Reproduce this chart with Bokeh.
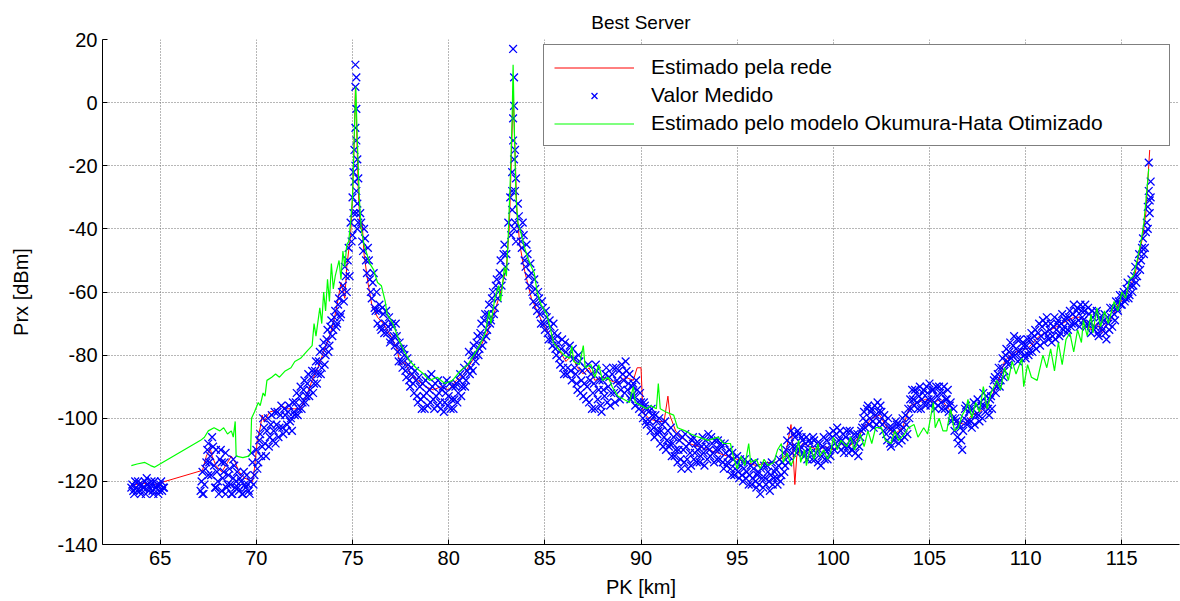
from bokeh.plotting import figure
from bokeh.models import FixedTicker, Legend, LegendItem, Range1d
from bokeh.embed import file_html
from bokeh.resources import INLINE

FONT = "Liberation Sans"

title_text = "Best Server"
x_label = "PK [km]"
y_label = "Prx [dBm]"
x_ticks = [65, 70, 75, 80, 85, 90, 95, 100, 105, 110, 115]
y_ticks = [-140, -120, -100, -80, -60, -40, -20, 0, 20]
series_names = ["Estimado pela rede", "Valor Medido", "Estimado pelo modelo Okumura-Hata Otimizado"]

# Estimado pela rede (red)
red_km = [63.5, 64.0, 64.7, 67.2, 67.4, 67.6, 67.7, 67.9, 68.2, 68.5, 68.7, 68.9, 69.1, 69.4, 69.8, 69.9,
          70.05, 70.2, 70.3, 70.4, 70.7, 71.0, 71.3, 71.6, 72.0, 72.3, 72.6, 72.9, 73.2, 73.5, 73.8, 74.0,
          74.2, 74.4, 74.6, 74.7, 74.8, 74.9, 75.0, 75.1, 75.15, 75.2, 75.3, 75.4, 75.5, 75.6, 75.8, 76.0,
          76.3, 76.6, 77.0, 77.3, 77.5, 77.7, 78.0, 78.4, 78.8, 79.2, 79.6, 80.0, 80.4, 80.8, 81.2, 81.6,
          82.0, 82.4, 82.7, 83.0, 83.15, 83.25, 83.35, 83.45, 83.55, 83.7, 83.9, 84.1, 84.3, 84.6, 84.9,
          85.2, 85.5, 85.8, 86.1, 86.4, 86.7, 87.0, 87.3, 87.6, 88.0, 88.4, 88.8, 89.2, 89.6, 89.8, 90.0,
          90.1, 90.4, 90.8, 91.2, 91.4, 91.5, 91.8, 92.1, 92.5, 93.0, 93.5, 94.0, 94.5, 95.0, 95.5, 96.0,
          96.5, 97.0, 97.5, 97.8, 97.9, 98.0, 98.1, 98.4, 98.8, 99.2, 99.6, 100.0, 100.4, 100.8, 101.2,
          101.6, 102.0, 102.4, 102.8, 103.2, 103.6, 104.0, 104.4, 104.8, 105.2, 105.6, 106.0, 106.4, 106.8,
          107.2, 107.6, 108.0, 108.4, 108.7, 108.9, 109.2, 109.5, 109.8, 110.1, 110.4, 110.7, 111.0, 111.3,
          111.6, 111.9, 112.2, 112.5, 112.8, 113.1, 113.4, 113.7, 114.0, 114.2, 114.5, 114.8, 115.1, 115.4,
          115.7, 115.9, 116.1, 116.25, 116.35, 116.45]
red_dbm = [-121.5, -120.5, -121, -116.5, -112, -109.5, -112, -115, -117, -114, -112, -114, -117, -119, -120, -116,
           -107, -103, -99, -101, -98, -97.5, -96, -97, -97, -97, -93, -88, -84, -79, -74, -70,
           -64, -57, -62, -52, -47, -42, -30, -10, 5, -5, -28, -40, -38, -48, -57, -64,
           -68, -70, -74, -78, -83, -82, -86, -88, -90, -91, -90, -91, -88, -86, -82, -78,
           -73, -66, -60, -52, -40, -20, 3, -15, -35, -45, -52, -57, -62, -66, -70,
           -73, -76, -79, -82, -80, -84, -86, -84, -88, -87, -88, -89, -87, -88, -84, -84,
           -98, -100, -101, -101, -93, -99, -104, -106, -108, -109, -110, -111, -112, -113, -114, -115,
           -114, -114, -112, -102, -110, -121, -112, -108, -109, -110, -109, -110, -108, -109, -107,
           -103, -100, -99, -103, -105, -103, -96, -95, -94, -95, -94, -97, -101, -102,
           -99, -98, -96, -91, -86, -82, -80, -79, -78, -78, -76, -74, -73, -72,
           -71, -70, -69, -68, -68, -69, -72, -70, -73, -70, -68, -64, -62, -59,
           -54, -48, -42, -35, -25, -15]

# Valor Medido (blue crosses) - first pass of samples
blue_km = [63.5, 63.6, 63.7, 63.8, 63.9, 64.0, 64.1, 64.2, 64.3, 64.4, 64.5, 64.6, 64.7, 64.8, 64.9, 65.0, 65.1, 65.2,
           67.1, 67.2, 67.3, 67.4, 67.5, 67.6, 67.7, 67.8, 67.9, 68.0, 68.1, 68.2, 68.3, 68.4, 68.5, 68.6, 68.7, 68.8,
           68.9, 69.0, 69.1, 69.2, 69.3, 69.4, 69.5, 69.6, 69.7, 69.8, 69.9,
           67.2, 67.5, 67.9, 68.2, 68.4, 68.8,
           70.0, 70.1, 70.2, 70.3, 70.4, 70.5, 70.6, 70.7, 70.8, 70.9,
           71.0, 71.1, 71.2, 71.3, 71.4, 71.5, 71.6, 71.7, 71.8, 71.9,
           72.0, 72.1, 72.2, 72.3, 72.4, 72.5, 72.6, 72.7, 72.8, 72.9,
           73.0, 73.1, 73.2, 73.3, 73.4, 73.5, 73.6, 73.7, 73.8, 73.9,
           74.0, 74.1, 74.2, 74.3, 74.4, 74.5, 74.6, 74.7, 74.8, 74.9,
           75.0, 75.0, 75.05, 75.1, 75.1, 75.15, 75.15, 75.2, 75.2, 75.15, 75.2, 75.15, 75.2, 75.25, 75.25, 75.3, 75.3,
           75.05, 75.2, 75.25,
           75.4, 75.5, 75.6, 75.7, 75.8, 75.9, 76.0, 76.1, 76.2, 76.3,
           76.4, 76.5, 76.6, 76.7, 76.8, 76.9, 77.0, 77.1, 77.2, 77.3,
           77.4, 77.5, 77.6, 77.7, 77.8, 77.9, 78.0, 78.1, 78.2, 78.3,
           78.4, 78.5, 78.6, 78.7, 78.8, 78.9, 79.0, 79.1, 79.2, 79.3,
           79.4, 79.5, 79.6, 79.7, 79.8, 79.9, 80.0, 80.1, 80.2, 80.3,
           80.4, 80.5, 80.6, 80.7, 80.8, 80.9,
           81.0, 81.1, 81.2, 81.3, 81.4, 81.5, 81.6, 81.7, 81.8, 81.9,
           82.0, 82.1, 82.2, 82.3, 82.4, 82.5, 82.6, 82.7, 82.8, 82.9,
           83.0, 83.1, 83.2,
           83.25, 83.3, 83.3, 83.35, 83.35, 83.4, 83.4, 83.35, 83.4, 83.45, 83.45, 83.5, 83.5,
           83.3, 83.4, 83.45,
           83.6, 83.7, 83.8, 83.9, 84.0, 84.1, 84.2, 84.3, 84.4, 84.5,
           84.6, 84.7, 84.8, 84.9, 85.0, 85.1, 85.2, 85.3, 85.4, 85.5,
           85.6, 85.7, 85.8, 85.9, 86.0, 86.1, 86.2, 86.3, 86.4, 86.5,
           86.6, 86.7, 86.8, 86.9, 87.0, 87.1, 87.2, 87.3, 87.4, 87.5,
           87.6, 87.7, 87.8, 87.9, 88.0, 88.1, 88.2, 88.3, 88.4, 88.5,
           88.6, 88.7, 88.8, 88.9, 89.0, 89.1, 89.2, 89.3, 89.4, 89.5,
           89.6, 89.7, 89.8, 89.9,
           90.0, 90.1, 90.2, 90.3, 90.4, 90.5, 90.6, 90.7, 90.8, 90.9,
           91.0, 91.1, 91.2, 91.3, 91.4, 91.5, 91.6, 91.7, 91.8, 91.9,
           92.0, 92.1, 92.2, 92.3, 92.4, 92.5, 92.6, 92.7, 92.8, 92.9,
           93.0, 93.1, 93.2, 93.3, 93.4, 93.5, 93.6, 93.7, 93.8, 93.9,
           94.0, 94.1, 94.2, 94.3, 94.4, 94.5, 94.6, 94.7, 94.8, 94.9,
           95.0, 95.1, 95.2, 95.3, 95.4, 95.5, 95.6, 95.7, 95.8, 95.9,
           96.0, 96.1, 96.2, 96.3, 96.4, 96.5, 96.6, 96.7, 96.8, 96.9,
           97.0, 97.1, 97.2, 97.3, 97.4, 97.5, 97.6, 97.7, 97.8, 97.9,
           98.0, 98.1, 98.2, 98.3, 98.4, 98.5, 98.6, 98.7, 98.8, 98.9,
           99.0, 99.1, 99.2, 99.3, 99.4, 99.5, 99.6, 99.7, 99.8, 99.9,
           100.0, 100.1, 100.2, 100.3, 100.4, 100.5, 100.6, 100.7, 100.8, 100.9,
           101.0, 101.1, 101.2, 101.3, 101.4, 101.5, 101.6, 101.7, 101.8, 101.9,
           102.0, 102.1, 102.2, 102.3, 102.4, 102.5, 102.6, 102.7, 102.8, 102.9,
           103.0, 103.1, 103.2, 103.3, 103.4, 103.5, 103.6, 103.7, 103.8, 103.9,
           104.0, 104.1, 104.2, 104.3, 104.4, 104.5, 104.6, 104.7, 104.8, 104.9,
           105.0, 105.1, 105.2, 105.3, 105.4, 105.5, 105.6, 105.7, 105.8, 105.9,
           106.0, 106.1, 106.2, 106.3, 106.4, 106.5, 106.6, 106.7, 106.8, 106.9,
           107.0, 107.1, 107.2, 107.3, 107.4, 107.5, 107.6, 107.7, 107.8, 107.9,
           108.0, 108.1, 108.2, 108.3, 108.4, 108.5, 108.6, 108.7, 108.8, 108.9,
           109.0, 109.1, 109.2, 109.3, 109.4, 109.5, 109.6, 109.7, 109.8, 109.9,
           110.0, 110.1, 110.2, 110.3, 110.4, 110.5, 110.6, 110.7, 110.8, 110.9,
           111.0, 111.1, 111.2, 111.3, 111.4, 111.5, 111.6, 111.7, 111.8, 111.9,
           112.0, 112.1, 112.2, 112.3, 112.4, 112.5, 112.6, 112.7, 112.8, 112.9,
           113.0, 113.1, 113.2, 113.3, 113.4, 113.5, 113.6, 113.7, 113.8, 113.9,
           114.0, 114.1, 114.2, 114.3, 114.4, 114.5, 114.6, 114.7, 114.8, 114.9,
           115.0, 115.1, 115.2, 115.3, 115.4, 115.5, 115.6, 115.7, 115.8, 115.9,
           116.0, 116.1, 116.2, 116.3, 116.35, 116.4, 116.45, 116.5, 116.5, 116.4]
blue_dbm = [-122, -123, -120, -123, -121, -124, -122, -120, -119, -123, -121, -123, -120, -122, -124, -121, -123, -122,
            -123, -117, -121, -114, -108, -112, -106, -115, -110, -120, -113, -123, -117, -111, -121, -116, -124, -119,
            -122, -117, -123, -120, -124, -121, -118, -123, -120, -114, -118,
            -124, -118, -122, -114, -124, -113,
            -110, -114, -105, -109, -103, -112, -100, -106, -99, -104,
            -108, -98, -103, -96, -105, -99, -102, -96, -100, -95,
            -99, -92, -97, -90, -95, -88, -93, -86, -91, -85,
            -89, -82, -86, -79, -84, -76, -80, -72, -77, -69,
            -72, -66, -70, -62, -67, -58, -52, -60, -46, -38,
            -42, -30, -35, -25, -15, -20, -8, -2, -12, 5, 8, 12, -28, -18, -32, -24, -38,
            -22, -35, -40,
            -35, -44, -40, -50, -46, -56, -62, -54, -66, -70,
            -64, -72, -67, -70, -73, -68, -75, -71, -77, -74,
            -82, -78, -84, -80, -87, -83, -90, -86, -92, -88,
            -95, -90, -97, -93, -88, -96, -91, -86, -94, -89,
            -96, -92, -97, -90, -95, -88, -93, -97, -90, -94,
            -89, -92, -86, -90, -84, -88,
            -83, -86, -80, -77, -82, -74, -78, -70, -75, -67,
            -72, -64, -69, -60, -65, -56, -60, -50, -55, -45,
            -48, -38, -30,
            -42, -22, -34, -12, -5, -1, 8, 17, -18, -28, -38, -24, -44,
            -28, -40, -15,
            -32, -40, -46, -42, -52, -48, -58, -54, -63, -59,
            -66, -62, -70, -65, -72, -68, -75, -71, -77, -73,
            -80, -76, -83, -75, -86, -79, -84, -77, -88, -81,
            -86, -91, -82, -88, -93, -84, -90, -95, -86, -92,
            -97, -85, -91, -96, -88, -93, -84, -90, -96, -86,
            -92, -84, -89, -94, -83, -88, -82, -91, -86, -93,
            -89, -96, -91, -97,
            -95, -100, -96, -102, -98, -104, -99, -106, -101, -104,
            -108, -102, -106, -110, -104, -108, -112, -106, -110, -114,
            -107, -116, -110, -105, -113, -108, -115, -106, -111, -114,
            -108, -112, -106, -115, -109, -105, -112, -108, -114, -110,
            -107, -113, -109, -116, -111, -114, -110, -118, -113, -116,
            -112, -119, -115, -120, -113, -117, -121, -115, -119, -114,
            -122, -117, -124, -119, -115, -121, -117, -123, -114, -119,
            -116, -121, -113, -118, -111, -115, -107, -112, -104, -109,
            -106, -111, -105, -109, -107, -112, -106, -110, -108, -113,
            -107, -111, -114, -108, -112, -106, -110, -113, -105, -109,
            -104, -108, -103, -107, -110, -105, -109, -104, -111, -107,
            -110, -105, -108, -112, -106, -103, -98, -101, -96, -100,
            -97, -103, -99, -95, -101, -98, -104, -101, -107, -103,
            -109, -104, -106, -102, -108, -104, -100, -106, -102, -97,
            -94, -91, -96, -92, -97, -90, -94, -91, -96, -92,
            -89, -94, -91, -97, -93, -90, -95, -92, -97, -94,
            -98, -95, -100, -104, -101, -108, -103, -110, -100, -96,
            -101, -97, -103, -95, -99, -94, -101, -96, -92, -98,
            -95, -99, -93, -91, -87, -90, -84, -88, -81, -85,
            -78, -83, -76, -80, -74, -78, -82, -75, -79, -77,
            -81, -75, -79, -73, -77, -72, -76, -70, -74, -69,
            -73, -68, -75, -70, -74, -68, -72, -69, -73, -67,
            -71, -68, -72, -66, -70, -64, -68, -65, -71, -66,
            -69, -64, -70, -67, -73, -68, -71, -66, -74, -69,
            -72, -67, -75, -70, -65, -71, -67, -63, -66, -61,
            -64, -60, -62, -57, -61, -56, -58, -52, -55, -48,
            -50, -43, -46, -38, -33, -28, -35, -25, -30, -19]

# Valor Medido (blue crosses) - interleaved samples
blue2_km = [63.55, 63.65, 63.75, 63.85, 63.95, 64.05, 64.15, 64.25, 64.35, 64.45, 64.55, 64.65, 64.75, 64.85, 64.95, 65.05, 65.15,
            67.15, 67.25, 67.35, 67.45, 67.55, 67.65, 67.75, 67.85, 67.95, 68.05, 68.15, 68.25, 68.35, 68.45,
            68.55, 68.65, 68.75, 68.85, 68.95, 69.05, 69.15, 69.25, 69.35, 69.45, 69.55, 69.65, 69.75, 69.85,
            70.05, 70.15, 70.25, 70.35, 70.45, 70.55, 70.65, 70.75, 70.85, 70.95,
            71.05, 71.15, 71.25, 71.35, 71.45, 71.55, 71.65, 71.75, 71.85, 71.95,
            72.05, 72.15, 72.25, 72.35, 72.45, 72.55, 72.65, 72.75, 72.85, 72.95,
            73.05, 73.15, 73.25, 73.35, 73.45, 73.55, 73.65, 73.75, 73.85, 73.95,
            74.05, 74.15, 74.25, 74.35, 74.45, 74.55, 74.65, 74.75, 74.85, 74.95,
            75.45, 75.55, 75.65, 75.75, 75.85, 75.95, 76.05, 76.15, 76.25, 76.35,
            76.45, 76.55, 76.65, 76.75, 76.85, 76.95, 77.05, 77.15, 77.25, 77.35,
            77.45, 77.55, 77.65, 77.75, 77.85, 77.95, 78.05, 78.15, 78.25, 78.35,
            78.45, 78.55, 78.65, 78.75, 78.85, 78.95, 79.05, 79.15, 79.25, 79.35,
            79.45, 79.55, 79.65, 79.75, 79.85, 79.95, 80.05, 80.15, 80.25, 80.35,
            80.45, 80.55, 80.65, 80.75, 80.85, 80.95,
            81.05, 81.15, 81.25, 81.35, 81.45, 81.55, 81.65, 81.75, 81.85, 81.95,
            82.05, 82.15, 82.25, 82.35, 82.45, 82.55, 82.65, 82.75, 82.85, 82.95,
            83.65, 83.75, 83.85, 83.95, 84.05, 84.15, 84.25, 84.35, 84.45, 84.55,
            84.65, 84.75, 84.85, 84.95, 85.05, 85.15, 85.25, 85.35, 85.45, 85.55,
            85.65, 85.75, 85.85, 85.95, 86.05, 86.15, 86.25, 86.35, 86.45, 86.55,
            86.65, 86.75, 86.85, 86.95, 87.05, 87.15, 87.25, 87.35, 87.45, 87.55,
            87.65, 87.75, 87.85, 87.95, 88.05, 88.15, 88.25, 88.35, 88.45, 88.55,
            88.65, 88.75, 88.85, 88.95, 89.05, 89.15, 89.25, 89.35, 89.45, 89.55,
            89.65, 89.75, 89.85, 89.95,
            90.05, 90.15, 90.25, 90.35, 90.45, 90.55, 90.65, 90.75, 90.85, 90.95,
            91.05, 91.15, 91.25, 91.35, 91.45, 91.55, 91.65, 91.75, 91.85, 91.95,
            92.05, 92.15, 92.25, 92.35, 92.45, 92.55, 92.65, 92.75, 92.85, 92.95,
            93.05, 93.15, 93.25, 93.35, 93.45, 93.55, 93.65, 93.75, 93.85, 93.95,
            94.05, 94.15, 94.25, 94.35, 94.45, 94.55, 94.65, 94.75, 94.85, 94.95,
            95.05, 95.15, 95.25, 95.35, 95.45, 95.55, 95.65, 95.75, 95.85, 95.95,
            96.05, 96.15, 96.25, 96.35, 96.45, 96.55, 96.65, 96.75, 96.85, 96.95,
            97.05, 97.15, 97.25, 97.35, 97.45, 97.55, 97.65, 97.75, 97.85, 97.95,
            98.05, 98.15, 98.25, 98.35, 98.45, 98.55, 98.65, 98.75, 98.85, 98.95,
            99.05, 99.15, 99.25, 99.35, 99.45, 99.55, 99.65, 99.75, 99.85, 99.95,
            100.05, 100.15, 100.25, 100.35, 100.45, 100.55, 100.65, 100.75, 100.85, 100.95,
            101.05, 101.15, 101.25, 101.35, 101.45, 101.55, 101.65, 101.75, 101.85, 101.95,
            102.05, 102.15, 102.25, 102.35, 102.45, 102.55, 102.65, 102.75, 102.85, 102.95,
            103.05, 103.15, 103.25, 103.35, 103.45, 103.55, 103.65, 103.75, 103.85, 103.95,
            104.05, 104.15, 104.25, 104.35, 104.45, 104.55, 104.65, 104.75, 104.85, 104.95,
            105.05, 105.15, 105.25, 105.35, 105.45, 105.55, 105.65, 105.75, 105.85, 105.95,
            106.05, 106.15, 106.25, 106.35, 106.45, 106.55, 106.65, 106.75, 106.85, 106.95,
            107.05, 107.15, 107.25, 107.35, 107.45, 107.55, 107.65, 107.75, 107.85, 107.95,
            108.05, 108.15, 108.25, 108.35, 108.45, 108.55, 108.65, 108.75, 108.85, 108.95,
            109.05, 109.15, 109.25, 109.35, 109.45, 109.55, 109.65, 109.75, 109.85, 109.95,
            110.05, 110.15, 110.25, 110.35, 110.45, 110.55, 110.65, 110.75, 110.85, 110.95,
            111.05, 111.15, 111.25, 111.35, 111.45, 111.55, 111.65, 111.75, 111.85, 111.95,
            112.05, 112.15, 112.25, 112.35, 112.45, 112.55, 112.65, 112.75, 112.85, 112.95,
            113.05, 113.15, 113.25, 113.35, 113.45, 113.55, 113.65, 113.75, 113.85, 113.95,
            114.05, 114.15, 114.25, 114.35, 114.45, 114.55, 114.65, 114.75, 114.85, 114.95,
            115.05, 115.15, 115.25, 115.35, 115.45, 115.55, 115.65, 115.75, 115.85, 115.95,
            116.05, 116.15, 116.25, 116.35, 116.45]
blue2_dbm = [-121, -124, -122, -120, -123, -121, -122, -124, -121, -122, -120, -124, -122, -121, -123, -120, -122,
             -120, -124, -116, -110, -114, -118, -109, -122, -117, -124, -110, -119, -114, -122,
             -118, -121, -124, -115, -120, -122, -119, -124, -117, -122, -121, -124, -111, -121,
             -116, -107, -112, -100, -108, -104, -109, -102, -107, -98,
             -102, -106, -99, -103, -97, -104, -98, -101, -104, -98,
             -95, -99, -93, -97, -91, -95, -89, -93, -87, -92,
             -85, -89, -82, -86, -78, -83, -75, -79, -71, -74,
             -68, -71, -64, -68, -60, -63, -55, -50, -55, -44,
             -38, -47, -43, -54, -50, -60, -57, -65, -60, -66,
             -71, -65, -73, -66, -71, -76, -70, -74, -70, -79,
             -76, -82, -78, -85, -81, -88, -84, -89, -85, -93,
             -87, -94, -89, -97, -92, -87, -95, -90, -97, -93,
             -88, -95, -91, -98, -92, -96, -89, -94, -97, -90,
             -95, -88, -93, -87, -90, -85,
             -79, -84, -85, -80, -76, -80, -73, -77, -69, -74,
             -67, -70, -62, -67, -58, -62, -54, -58, -48, -52,
             -36, -44, -38, -50, -45, -55, -51, -60, -56, -64,
             -60, -67, -63, -70, -66, -73, -69, -75, -70, -78,
             -74, -81, -78, -84, -76, -86, -80, -85, -78, -84,
             -89, -80, -92, -85, -89, -94, -83, -88, -97, -89,
             -83, -94, -88, -98, -91, -86, -95, -87, -92, -84,
             -95, -88, -85, -91, -86, -92, -85, -89, -94, -90,
             -93, -88, -95, -92,
             -98, -95, -101, -97, -101, -97, -103, -99, -105, -100,
             -104, -109, -101, -107, -109, -103, -108, -112, -105, -110,
             -113, -106, -114, -109, -116, -111, -107, -113, -108, -110,
             -114, -109, -111, -107, -113, -110, -106, -111, -107, -113,
             -110, -108, -114, -108, -115, -112, -116, -111, -118, -114,
             -117, -113, -118, -116, -119, -114, -118, -121, -116, -120,
             -118, -121, -116, -122, -119, -115, -120, -118, -121, -117,
             -119, -115, -120, -114, -117, -110, -114, -108, -111, -105,
             -109, -104, -110, -106, -111, -108, -113, -107, -111, -106,
             -113, -108, -110, -115, -109, -113, -107, -110, -112, -106,
             -110, -105, -109, -104, -107, -111, -106, -109, -104, -110,
             -107, -111, -105, -109, -104, -100, -103, -97, -102, -98,
             -101, -96, -102, -98, -96, -102, -99, -105, -100, -108,
             -103, -107, -101, -105, -102, -107, -103, -99, -105, -100,
             -97, -94, -91, -95, -93, -97, -92, -95, -90, -94,
             -96, -91, -95, -90, -96, -92, -97, -90, -94, -91,
             -96, -101, -97, -100, -106, -102, -107, -104, -97, -102,
             -98, -101, -97, -102, -96, -99, -95, -100, -96, -93,
             -97, -94, -97, -88, -92, -86, -90, -84, -87, -80,
             -82, -79, -81, -77, -80, -75, -79, -81, -76, -80,
             -77, -80, -75, -79, -74, -78, -73, -77, -71, -76,
             -70, -74, -72, -76, -71, -75, -70, -74, -70, -72,
             -69, -73, -68, -71, -67, -70, -66, -69, -64, -68,
             -66, -71, -65, -70, -66, -72, -67, -73, -68, -71,
             -69, -73, -68, -72, -68, -65, -69, -65, -63, -64,
             -61, -63, -59, -62, -58, -60, -55, -57, -51, -53,
             -46, -48, -41, -40, -31]

# Estimado pelo modelo Okumura-Hata Otimizado (green)
green_km = [63.5, 63.8, 64.2, 64.5, 64.7, 67.1, 67.3, 67.5, 67.8, 68.1, 68.3, 68.5, 68.7, 68.8, 68.9, 68.95,
            69.3, 69.6, 69.7, 69.75, 69.9, 70.1, 70.2, 70.35, 70.45, 70.55, 70.8, 71.0, 71.2, 71.5, 71.8, 72.0,
            72.3, 72.6, 72.9, 73.0, 73.1, 73.3, 73.4, 73.5, 73.6, 73.7, 73.8, 73.9, 74.0, 74.1, 74.3, 74.4,
            74.5, 74.6, 74.7, 74.8, 74.9, 75.0, 75.1, 75.17, 75.25, 75.35, 75.45, 75.6, 75.9, 76.1, 76.3, 76.5,
            76.7, 76.8, 77.1, 77.4, 77.7, 78.0, 78.3, 78.7, 79.0, 79.4, 79.8, 80.2, 80.6, 81.0, 81.3, 81.6,
            81.9, 82.1, 82.2, 82.4, 82.6, 82.7, 82.9, 83.0, 83.1, 83.2, 83.3, 83.35, 83.42, 83.5, 83.6, 83.75,
            83.9, 84.1, 84.3, 84.45, 84.6, 84.8, 85.1, 85.3, 85.45, 85.7, 86.0, 86.3, 86.4, 86.5, 86.8, 87.0,
            87.1, 87.4, 87.6, 87.8, 88.0, 88.3, 88.5, 88.8, 89.1, 89.4, 89.6, 89.7, 90.0, 90.3, 90.5, 90.8,
            90.9, 91.0, 91.3, 91.7, 91.9, 92.3, 92.6, 93.0, 93.5, 94.0, 94.3, 94.65, 94.8, 95.0, 95.2, 95.4,
            95.6, 95.7, 96.0, 96.2, 96.4, 96.6, 96.9, 97.1, 97.3, 97.4, 97.6, 97.8, 98.0, 98.2, 98.3, 98.5,
            98.6, 98.8, 99.0, 99.2, 99.3, 99.5, 99.7, 99.86, 100.0, 100.2, 100.4, 100.7, 100.9, 101.1, 101.4,
            101.6, 101.8, 102.0, 102.2, 102.5, 102.7, 103.0, 103.2, 103.4, 103.7, 103.9, 104.2, 104.4, 104.7,
            104.9, 105.2, 105.3, 105.5, 105.7, 105.9, 106.1, 106.3, 106.5, 106.7, 106.9, 107.0, 107.2, 107.4,
            107.6, 107.8, 108.0, 108.2, 108.5, 108.7, 108.9, 109.1, 109.3, 109.5, 109.8, 109.9, 110.1, 110.3,
            110.6, 110.9, 111.1, 111.3, 111.5, 111.7, 111.9, 112.1, 112.3, 112.5, 112.7, 112.9, 113.0, 113.2,
            113.4, 113.5, 113.7, 113.9, 114.1, 114.3, 114.6, 114.8, 115.0, 115.2, 115.4, 115.6, 115.8, 116.0,
            116.15, 116.3, 116.4]
green_dbm = [-115, -114.5, -114, -115, -115.5, -107, -106, -104, -103, -104, -103, -105, -104, -106, -101, -112,
             -112.5, -112, -111, -100, -98, -95, -96, -92, -93, -88, -87, -86, -87, -85, -84, -82,
             -81, -79, -77, -70, -74, -65, -70, -60, -66, -56, -63, -51, -59, -55, -50, -56,
             -47, -52, -45, -44, -38, -30, -8, 5, -12, -30, -40, -45, -51, -53, -57, -58,
             -63, -67, -70, -75, -79, -82, -84, -86, -88, -87, -89, -88, -85, -83, -80, -77,
             -73, -66, -70, -62, -58, -63, -52, -55, -42, -25, -5, 12, -10, -30, -38, -41,
             -45, -49, -52, -54, -60, -64, -67, -72, -76, -78, -80, -81, -77, -82, -83, -77,
             -84, -83, -87, -83, -88, -87, -90, -93, -94, -95, -90, -95, -96, -97, -96, -97,
             -89, -97, -98, -99, -103, -104, -105, -106, -107, -106, -108, -108, -112, -116, -112, -115,
             -108, -114, -113, -116, -113, -115, -114, -110, -108, -114, -111, -115, -112, -107, -114, -110,
             -115, -109, -113, -108, -112, -110, -113, -111, -106, -110, -107, -109, -106, -110, -105,
             -109, -104, -108, -103, -103, -107, -108, -104, -107, -105, -103, -102, -106, -103,
             -105, -95, -103, -100, -104, -104, -97, -104, -103, -99, -97, -94, -100, -95,
             -98, -90, -97, -92, -88, -91, -84, -88, -82, -86, -81, -90, -83, -87,
             -88, -80, -84, -78, -85, -76, -83, -75, -73, -79, -72, -76, -69, -74,
             -67, -73, -65, -71, -66, -70, -63, -66, -60, -62, -56, -55, -50, -44,
             -38, -28, -21]

p = figure(width=1180, height=601, x_range=Range1d(62, 118), y_range=Range1d(-140, 20),
           output_backend="svg", toolbar_location=None, title=title_text,
           min_border_left=102, min_border_right=1, min_border_top=39, min_border_bottom=57)
p.outline_line_color = None
p.background_fill_color = "white"
p.border_fill_color = "white"

p.title.align = "center"
p.title.vertical_align = "top"
p.title.text_font = FONT
p.title.text_font_size = "19px"
p.title.text_font_style = "normal"
p.title.text_color = "black"
p.title.standoff = 10

for ax in (p.xaxis[0], p.yaxis[0]):
    ax.major_tick_in = 5
    ax.major_tick_out = 0
    ax.minor_tick_line_color = None
    ax.major_label_text_font = FONT
    ax.major_label_text_font_size = "20px"
    ax.major_label_text_color = "black"
    ax.axis_label_text_font = FONT
    ax.axis_label_text_font_size = "20px"
    ax.axis_label_text_font_style = "normal"
    ax.axis_label_text_color = "black"
    ax.axis_line_color = "black"
    ax.major_tick_line_color = "black"
p.xaxis.ticker = FixedTicker(ticks=x_ticks)
p.yaxis.ticker = FixedTicker(ticks=y_ticks)
p.xaxis.major_label_overrides = {t: str(t) for t in x_ticks}
p.yaxis.major_label_overrides = {t: str(t) for t in y_ticks}
p.xaxis.axis_label = x_label
p.yaxis.axis_label = y_label
p.xaxis.major_label_standoff = 6
p.yaxis.major_label_standoff = 5
p.xaxis.axis_label_standoff = 8
p.yaxis.axis_label_standoff = 22

p.xgrid.ticker = FixedTicker(ticks=x_ticks)
p.ygrid.ticker = FixedTicker(ticks=y_ticks)
p.grid.grid_line_color = "#6e6e6e"
p.grid.grid_line_dash = "1 2"
p.grid.grid_line_width = 1

r_red = p.line(red_km, red_dbm, line_color="#ff0000", line_width=1)
r_blue = p.scatter(blue_km + blue2_km, blue_dbm + blue2_dbm, marker="x", size=11,
                   line_color="#0000ff", line_width=1.3)
r_green = p.line(green_km, green_dbm, line_color="#00ff00", line_width=1.2)

legend = Legend(items=[LegendItem(label=series_names[0], renderers=[r_red]),
                       LegendItem(label=series_names[1], renderers=[r_blue]),
                       LegendItem(label=series_names[2], renderers=[r_green])],
                location=(441, 398), padding=10, spacing=4, margin=0,
                glyph_width=80, glyph_height=21, label_height=21, label_width=508, label_standoff=17,
                label_text_font=FONT, label_text_font_size="21px", label_text_color="black",
                border_line_color="black", border_line_width=1.5, background_fill_color="white",
                background_fill_alpha=1.0)
p.add_layout(legend)

open("out.html", "w").write(file_html(p, INLINE))
